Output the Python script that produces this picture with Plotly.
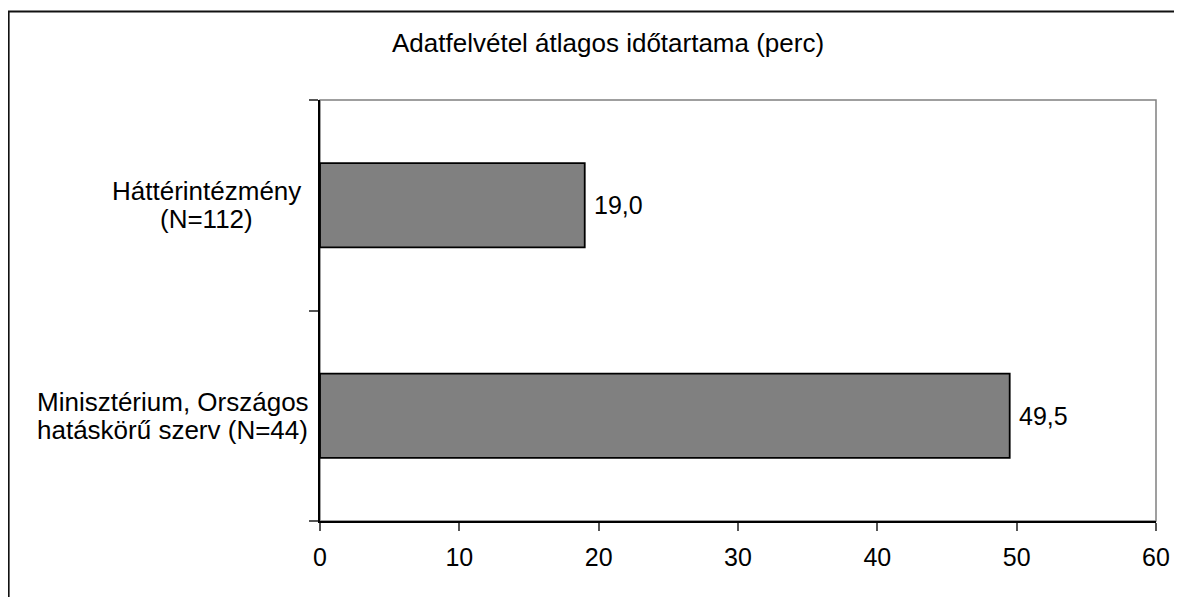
import plotly.graph_objects as go

categories = ["Minisztérium, Országos<br>hatáskörű szerv (N=44)", "Háttérintézmény<br>(N=112)"]
values = [49.5, 19.0]
value_labels = ["49,5", "19,0"]
title_text = "Adatfelvétel átlagos időtartama (perc)"
x_ticks = [0, 10, 20, 30, 40, 50, 60]

FONT = "Liberation Sans, Arial, sans-serif"
FS_BIG = 26
FS_TICK = 25

# The page body has an 8px margin, so the figure starts at (8, 8) on screen.
OFF = 8
W, H = 1182 - OFF, 597 - OFF
PLOT_L, PLOT_R, PLOT_T, PLOT_B = 320, 1159, 100, 521   # screen pixels
L, T = PLOT_L - OFF, PLOT_T - OFF
R = 1182 - PLOT_R
B = (OFF + H) - PLOT_B
pw, ph = PLOT_R - PLOT_L, PLOT_B - PLOT_T

def sx(px):
    return (px - PLOT_L) / pw

def sy(py):
    return (PLOT_B - py) / ph

fig = go.Figure()
fig.add_trace(go.Bar(
    y=list(range(len(categories))),
    x=values,
    orientation="h",
    width=0.4,
    marker=dict(color="#808080", line=dict(color="black", width=1.8)),
    hoverinfo="skip",
))

annotations = []
# category labels: per-line, centred block, tight line spacing
label_centers = [172, 206]  # screen x of each label block's centre
LINE_GAP = 28
for i, c in enumerate(categories):
    lines = c.split("<br>")
    n = len(lines)
    for j, line in enumerate(lines):
        annotations.append(dict(
            x=sx(label_centers[i]), xref="paper", xanchor="center",
            y=i, yref="y", yanchor="middle",
            yshift=(n - 1) / 2 * LINE_GAP - j * LINE_GAP,
            text=line, showarrow=False, borderpad=0,
            font=dict(family=FONT, size=FS_BIG, color="black"),
        ))
# value labels
for i, (v, t) in enumerate(zip(values, value_labels)):
    annotations.append(dict(
        x=v, xref="x", xanchor="left", xshift=7,
        y=i, yref="y", yanchor="middle",
        text=t, showarrow=False,
        font=dict(family=FONT, size=FS_TICK, color="black"),
    ))
# title
annotations.append(dict(
    x=sx(609), xref="paper", xanchor="center",
    y=sy(43), yref="paper", yanchor="middle",
    text=title_text, showarrow=False,
    font=dict(family=FONT, size=FS_BIG, color="black"),
))

shapes = [
    dict(type="rect", xref="paper", yref="paper", x0=0, x1=1, y0=0, y1=1,
         line=dict(color="#808080", width=1.5), layer="below"),
    dict(type="rect", xref="paper", yref="paper",
         x0=sx(7.5), x1=sx(1200), y0=sy(620), y1=sy(11.5),
         line=dict(color="#111111", width=2)),
]

fig.update_layout(
    width=W, height=H,
    margin=dict(l=L, r=R, t=T, b=B, pad=0),
    plot_bgcolor="white", paper_bgcolor="white",
    showlegend=False,
    font=dict(family=FONT, size=FS_TICK, color="black"),
    annotations=annotations,
    shapes=shapes,
    xaxis=dict(
        range=[0, 60], tickvals=x_ticks, ticks="outside", ticklen=8,
        tickcolor="#555555", tickwidth=1.5, ticklabelstandoff=5,
        showline=True, linecolor="black", linewidth=1.5,
        showgrid=False, zeroline=False,
        tickfont=dict(family=FONT, size=FS_TICK, color="black"),
        fixedrange=True,
    ),
    yaxis=dict(
        range=[-0.5, 1.5], tickvals=[-0.5, 0.5, 1.5],
        ticks="outside", ticklen=9, tickcolor="#555555", tickwidth=1.5,
        showline=True, linecolor="black", linewidth=1.5,
        showgrid=False, zeroline=False, showticklabels=False,
        fixedrange=True,
    ),
)

fig.write_html("out.html")
